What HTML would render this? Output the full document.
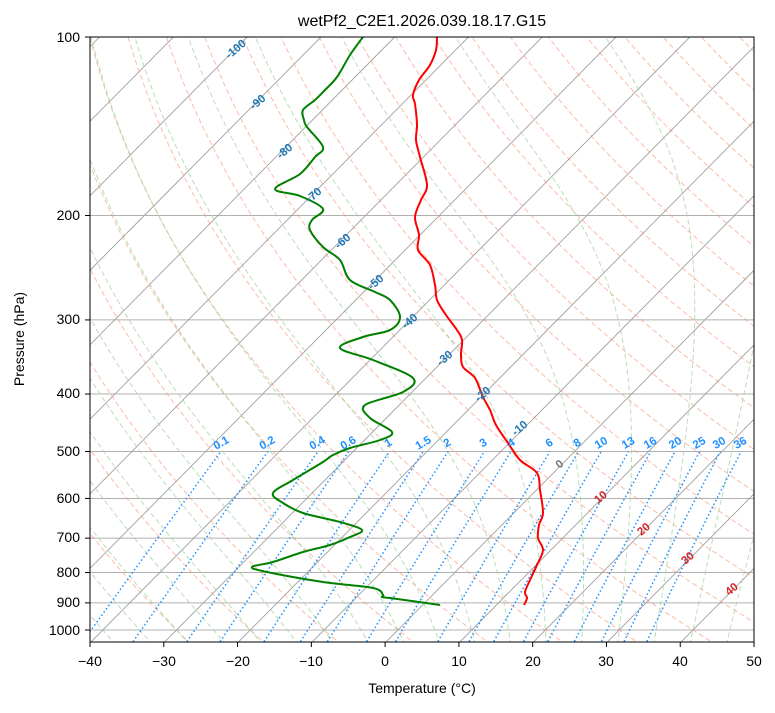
<!DOCTYPE html>
<html><head><meta charset="utf-8"><style>
body{margin:0;background:#fff;}
svg text{font-family:"Liberation Sans",sans-serif;}
</style></head><body>
<svg id="s" width="775" height="708" xmlns="http://www.w3.org/2000/svg">
<defs><clipPath id="c"><rect x="90" y="37" width="664" height="605"/></clipPath></defs>
<g id="g" clip-path="url(#c)"></g>
<g font-size="11.5" font-weight="bold" fill="#1f77b4" text-anchor="middle">
<text transform="translate(238,52) rotate(-40)">-100</text>
<text transform="translate(260,105) rotate(-40)">-90</text>
<text transform="translate(287,154) rotate(-40)">-80</text>
<text transform="translate(316,198) rotate(-40)">-70</text>
<text transform="translate(345,244) rotate(-40)">-60</text>
<text transform="translate(378,285) rotate(-40)">-50</text>
<text transform="translate(412,324) rotate(-40)">-40</text>
<text transform="translate(447,361) rotate(-40)">-30</text>
<text transform="translate(485,397) rotate(-40)">-20</text>
<text transform="translate(522,431) rotate(-40)">-10</text>
<text fill="#777" transform="translate(562,467) rotate(-40)">0</text>
<text fill="#d62728" transform="translate(603,500) rotate(-40)">10</text>
<text fill="#d62728" transform="translate(646,532) rotate(-40)">20</text>
<text fill="#d62728" transform="translate(690,561) rotate(-40)">30</text>
<text fill="#d62728" transform="translate(734,592) rotate(-40)">40</text>
</g>
<g font-size="11.5" font-weight="bold" fill="#1e90ff" text-anchor="middle">
<text transform="translate(223,446) rotate(-30)">0.1</text>
<text transform="translate(269,446) rotate(-30)">0.2</text>
<text transform="translate(319,446) rotate(-30)">0.4</text>
<text transform="translate(350,446) rotate(-30)">0.6</text>
<text transform="translate(390,446) rotate(-30)">1</text>
<text transform="translate(425,446) rotate(-30)">1.5</text>
<text transform="translate(449,446) rotate(-30)">2</text>
<text transform="translate(485,446) rotate(-30)">3</text>
<text transform="translate(513,446) rotate(-30)">4</text>
<text transform="translate(551,446) rotate(-30)">6</text>
<text transform="translate(579,446) rotate(-30)">8</text>
<text transform="translate(603,446) rotate(-30)">10</text>
<text transform="translate(630,446) rotate(-30)">13</text>
<text transform="translate(652,446) rotate(-30)">16</text>
<text transform="translate(677,446) rotate(-30)">20</text>
<text transform="translate(701,446) rotate(-30)">25</text>
<text transform="translate(721,446) rotate(-30)">30</text>
<text transform="translate(742,446) rotate(-30)">36</text>
</g>
<rect x="90" y="37" width="664" height="605" fill="none" stroke="#000" stroke-width="1"/>
<g font-size="14" fill="#000" text-anchor="middle">
<text x="422" y="26" font-size="16">wetPf2_C2E1.2026.039.18.17.G15</text>
<text x="422" y="693">Temperature (°C)</text>
<text transform="translate(24,339) rotate(-90)">Pressure (hPa)</text>
</g>
<g font-size="14" fill="#000" text-anchor="middle" id="xt">
<text x="90" y="666">−40</text><text x="164" y="666">−30</text><text x="238" y="666">−20</text>
<text x="311" y="666">−10</text><text x="385" y="666">0</text><text x="459" y="666">10</text>
<text x="533" y="666">20</text><text x="606" y="666">30</text><text x="680" y="666">40</text>
<text x="754" y="666">50</text>
</g>
<g font-size="14" fill="#000" text-anchor="end">
<text x="80" y="42">100</text><text x="80" y="220">200</text><text x="80" y="324">300</text>
<text x="80" y="398">400</text><text x="80" y="456">500</text><text x="80" y="503">600</text>
<text x="80" y="542">700</text><text x="80" y="577">800</text><text x="80" y="607">900</text>
<text x="80" y="635">1000</text>
</g>
<g id="ticks" stroke="#000"></g>
</svg>
<script>
var NS="http://www.w3.org/2000/svg",g=document.getElementById('g'),tk=document.getElementById('ticks');
function Y(p){return 37+593*Math.log10(p/100);}
function X(T,y){return 386+7.378*T+0.99*(642-y);}
function add(par,d,attrs){var e=document.createElementNS(NS,'path');e.setAttribute('d',d);e.setAttribute('fill','none');for(var k in attrs)e.setAttribute(k,attrs[k]);par.appendChild(e);}
function line(pts){return 'M'+pts.map(function(q){return q[0].toFixed(1)+','+q[1].toFixed(1)}).join('L');}
var ps=[];for(var p=1060;p>=95;p-=5)ps.push(p);
for(var p=100;p<=1000;p+=100){var y=Y(p);add(g,'M90,'+y+'H754',{stroke:'#b0b0b0','stroke-width':1});}
for(var T=-170;T<=60;T+=10){add(g,line([[X(T,650),650],[X(T,30),30]]),{stroke:'#a0a0a0','stroke-width':0.9});}
for(var t0=-30;t0<=200;t0+=10){var th=t0+273.15;add(g,line(ps.map(function(p){var y=Y(p);return [X(th*Math.pow(p/1000,0.2857)-273.15,y),y];})),{stroke:'#fa8d6e','stroke-opacity':0.6,'stroke-width':1,'stroke-dasharray':'5,3'});}
function es(T){return 6.112*Math.exp(17.67*T/(T+243.5));}
function dTdp(p,T){var Tk=T+273.15,rs=0.622*es(T)/(p-es(T)),Rd=287,Lv=2.5e6,cp=1005;return (Rd*Tk+Lv*rs)/(cp+Lv*Lv*rs*0.622/(Rd*Tk*Tk))/p;}
var mt=[];for(var t=-40;t<=45;t+=5)mt.push(t);
mt.forEach(function(t0){var T=t0,down=[];for(var p=1000;p<1060;p+=2){T+=dTdp(p,T)*2;down.push([p+2,T]);}
T=t0;var up=[[1000,t0]];for(var p=1000;p>95;p-=2){T-=dTdp(p,T)*2;up.push([p-2,T]);}
var all=down.reverse().concat(up);add(g,line(all.map(function(a){var y=Y(a[0]);return [X(a[1],y),y];})),{stroke:'#9fd49f','stroke-opacity':0.75,'stroke-width':1,'stroke-dasharray':'5,3'});});
[0.1,0.2,0.4,0.6,1,1.5,2,3,4,6,8,10,13,16,20,25,30,36].forEach(function(w){var pts=[];for(var p=1060;p>=500;p-=10){var e=w*p/(622+w),l=Math.log(e/6.112),Td=243.5*l/(17.67-l),y=Y(p);pts.push([X(Td,y),y]);}
add(g,line(pts),{stroke:'#1e90ff','stroke-width':1.5,'stroke-dasharray':'1.5,2.5'});});
var red=[[437,37],[436,50],[430,65],[419,80],[413,95],[415,104],[417,125],[416,140],[420,157],[427,185],[421,200],[415,217],[419,235],[418,250],[430,265],[435,285],[437,300],[446,315],[457,330],[462,340],[461,355],[463,367],[475,378],[483,397],[490,410],[496,425],[508,443],[520,460],[537,473],[540,490],[543,513],[539,525],[538,538],[543,550],[537,565],[530,580],[525,592],[527,598],[524,605]];
var grn=[[363,37],[350,55],[337,77],[325,90],[315,100],[303,110],[304,120],[307,127],[323,147],[315,157],[300,174],[275,189],[300,196],[323,209],[312,220],[310,230],[323,247],[340,260],[350,280],[375,292],[390,300],[400,317],[390,330],[363,337],[340,348],[373,360],[413,378],[403,392],[365,405],[370,418],[392,432],[380,440],[350,448],[333,455],[323,462],[293,480],[273,493],[283,503],[303,513],[340,522],[362,530],[350,537],[330,545],[303,552],[273,562],[252,567],[267,572],[323,582],[373,588],[383,595],[382,597],[390,598],[440,605]];
function smooth(pts){var d='M'+pts[0][0]+','+pts[0][1];for(var i=0;i<pts.length-1;i++){var p0=pts[i-1]||pts[i],p1=pts[i],p2=pts[i+1],p3=pts[i+2]||p2;d+='C'+(p1[0]+(p2[0]-p0[0])/6).toFixed(1)+','+(p1[1]+(p2[1]-p0[1])/6).toFixed(1)+' '+(p2[0]-(p3[0]-p1[0])/6).toFixed(1)+','+(p2[1]-(p3[1]-p1[1])/6).toFixed(1)+' '+p2[0]+','+p2[1];}return d;}
add(g,smooth(red),{stroke:'#ff0000','stroke-width':2});
add(g,smooth(grn),{stroke:'#008000','stroke-width':2});
for(var T=-40;T<=50;T+=10){var x=90+(T+40)*7.378;add(tk,'M'+x+',642V647',{});}
[100,200,300,400,500,600,700,800,900,1000].forEach(function(p){var y=Y(p);add(tk,'M85,'+y+'H90',{});});
</script>
</body></html>
